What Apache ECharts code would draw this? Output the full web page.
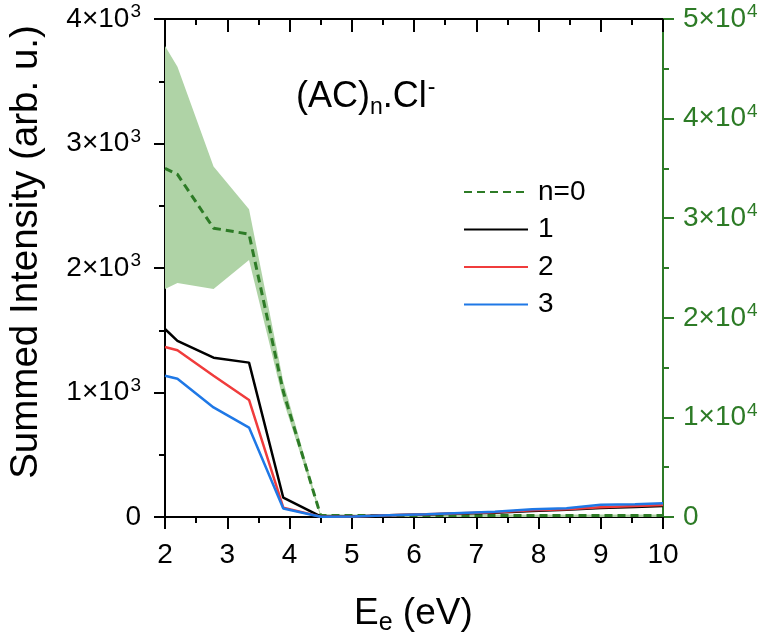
<!DOCTYPE html>
<html>
<head>
<meta charset="utf-8">
<script src="https://cdn.jsdelivr.net/npm/echarts@6/dist/echarts.min.js"></script>
<style>
  html, body { margin: 0; padding: 0; background: #fff; }
  #main { width: 774px; height: 643px; }
</style>
</head>
<body>
<div id="main"></div>
<script>
// photon energy (eV)
const energy = [2.0, 2.2, 2.78, 3.35, 3.9, 4.5, 5.05, 5.6, 6.2, 6.75, 7.3, 7.9, 8.45, 9.0, 9.55, 10.0];
// n = 0, right axis
const n0 = [35000, 34400, 29000, 28400, 12600, 150, 150, 150, 150, 150, 150, 150, 150, 150, 150, 150];
const n0Upper = [47300, 45200, 35200, 30900, 13600, 300, 250, 250, 250, 250, 250, 250, 250, 250, 250, 250];
const n0Lower = [22900, 23500, 22900, 25800, 11700, 0, 0, 0, 0, 0, 0, 0, 0, 0, 0, 0];
// n = 1..3, left axis
const n1 = [1510, 1415, 1280, 1240, 155, 5, 5, 15, 20, 28, 35, 48, 58, 72, 80, 88];
const n2 = [1365, 1340, 1135, 940, 75, 3, 5, 15, 22, 30, 38, 55, 62, 78, 88, 96];
const n3 = [1135, 1110, 880, 718, 68, 2, 5, 14, 22, 32, 42, 62, 70, 98, 102, 110];

const GREEN = '#2d7b26';
const FONT = 'Liberation Sans, Arial, sans-serif';

const pair = (ys) => energy.map((x, i) => [x, ys[i]]);

const supLabel = (exp) => (v) => v === 0 ? '{a|0}' : '{a|' + (v / Math.pow(10, exp)) + '×10}{b|' + exp + '}';
const labelRich = (color) => ({
  a: { fontSize: 28, fontFamily: FONT, color: color },
  b: { fontSize: 19, fontFamily: FONT, color: color, padding: [0, 0, 14, 1] }
});
const ticks = (color, len, inside) => ({
  axisTick: { show: true, inside: inside, length: len, lineStyle: { color: color, width: 2 } },
  minorTick: { show: true, splitNumber: 2, length: 6, lineStyle: { color: color, width: 2 } }
});

// same plot box for all grids; grids 1 and 2 only carry extra tick marks
const box = { left: 165, right: 111, top: 19, bottom: 126 };
const chart = echarts.init(document.getElementById('main'));
chart.setOption({
  animation: false,
  backgroundColor: '#fff',
  grid: [box, box, box],
  legend: {
    orient: 'vertical',
    left: 458,
    top: 173,
    itemWidth: 64,
    itemHeight: 14,
    itemGap: 9.5,
    itemStyle: { opacity: 0 },
    textStyle: { fontSize: 28, fontFamily: FONT, color: '#000', lineHeight: 28, padding: [0, 0, 0, 5] },
    data: ['n=0', '1', '2', '3']
  },
  xAxis: [Object.assign({
    type: 'value', gridIndex: 0, min: 2, max: 10, interval: 1, position: 'bottom',
    axisLine: { onZero: false, lineStyle: { color: '#000', width: 2 } },
    axisLabel: { fontSize: 28, fontFamily: FONT, color: '#000', margin: 24 },
    splitLine: { show: false }
  }, ticks('#000', 12, false)), Object.assign({
    type: 'value', gridIndex: 1, min: 2, max: 10, interval: 1, position: 'top',
    axisLine: { onZero: false, lineStyle: { color: '#000', width: 2 } },
    axisLabel: { show: false },
    splitLine: { show: false }
  }, ticks('#000', 13, true)), Object.assign({
    type: 'value', gridIndex: 2, min: 2, max: 10, interval: 1, position: 'bottom',
    axisLine: { show: false, onZero: false },
    axisLabel: { show: false },
    splitLine: { show: false }
  }, ticks('#000', 12, false))],
  yAxis: [Object.assign({
    type: 'value', gridIndex: 0, min: 0, max: 4000, interval: 1000, position: 'left',
    axisLine: { show: true, onZero: false, lineStyle: { color: '#000', width: 2 } },
    axisLabel: { formatter: supLabel(3), rich: labelRich('#000'), margin: 24 },
    splitLine: { show: false }
  }, ticks('#000', 11, false)), Object.assign({
    type: 'value', gridIndex: 0, min: 0, max: 50000, interval: 10000, position: 'right',
    axisLine: { show: true, onZero: false, lineStyle: { color: GREEN, width: 2 } },
    axisLabel: { formatter: supLabel(4), rich: labelRich(GREEN), margin: 20 },
    splitLine: { show: false }
  }, ticks(GREEN, 11, false)), Object.assign({
    type: 'value', gridIndex: 1, min: 0, max: 4000, interval: 1000, position: 'left',
    axisLine: { show: false, onZero: false },
    axisLabel: { show: false },
    splitLine: { show: false }
  }, ticks('#000', 11, false)), {
    type: 'value', gridIndex: 2, min: 0, max: 1, show: false
  }],
  series: [
    {
      type: 'custom', name: 'band', yAxisIndex: 1, silent: true, z: 1,
      data: [0],
      renderItem: (params, api) => {
        const top = energy.map((x, i) => api.coord([x, n0Upper[i]]));
        const bot = energy.map((x, i) => api.coord([x, n0Lower[i]])).reverse();
        return { type: 'polygon', shape: { points: top.concat(bot) }, style: { fill: '#afd3a6' } };
      }
    },
    { type: 'line', name: 'n=0', yAxisIndex: 1, data: pair(n0), symbol: 'none', z: 3,
      lineStyle: { color: GREEN, width: 3, type: [8, 5] }, itemStyle: { color: GREEN } },
    { type: 'line', name: '1', data: pair(n1), symbol: 'none', z: 4,
      lineStyle: { color: '#000', width: 2.5 }, itemStyle: { color: '#000' } },
    { type: 'line', name: '2', data: pair(n2), symbol: 'none', z: 5,
      lineStyle: { color: '#f03c3c', width: 2.5 }, itemStyle: { color: '#f03c3c' } },
    { type: 'line', name: '3', data: pair(n3), symbol: 'none', z: 6,
      lineStyle: { color: '#1f78e6', width: 2.5 }, itemStyle: { color: '#1f78e6' } }
  ],
  graphic: [
    {
      type: 'text', left: 296, top: 76, z: 10,
      style: {
        text: '{a|(AC)}{s|n}{a|.Cl}{p|-}',
        rich: {
          a: { fontSize: 36, fontFamily: FONT, fill: '#000' },
          s: { fontSize: 23, fontFamily: FONT, fill: '#000', padding: [20, 0, 0, 0] },
          p: { fontSize: 23, fontFamily: FONT, fill: '#000', padding: [0, 0, 20, 1] }
        }
      }
    },
    {
      type: 'text', x: 26, y: 252, rotation: Math.PI / 2, z: 10,
      style: { text: 'Summed Intensity (arb. u.)', fontSize: 38.5, fontFamily: FONT, fill: '#000', align: 'center', verticalAlign: 'middle' }
    },
    {
      type: 'text', left: 354, top: 595, z: 10,
      style: {
        text: '{a|E}{s|e}{a| (eV)}',
        rich: {
          a: { fontSize: 37, fontFamily: FONT, fill: '#000' },
          s: { fontSize: 25, fontFamily: FONT, fill: '#000', padding: [20, 0, 0, 0] }
        }
      }
    }
  ]
});
</script>
</body>
</html>
